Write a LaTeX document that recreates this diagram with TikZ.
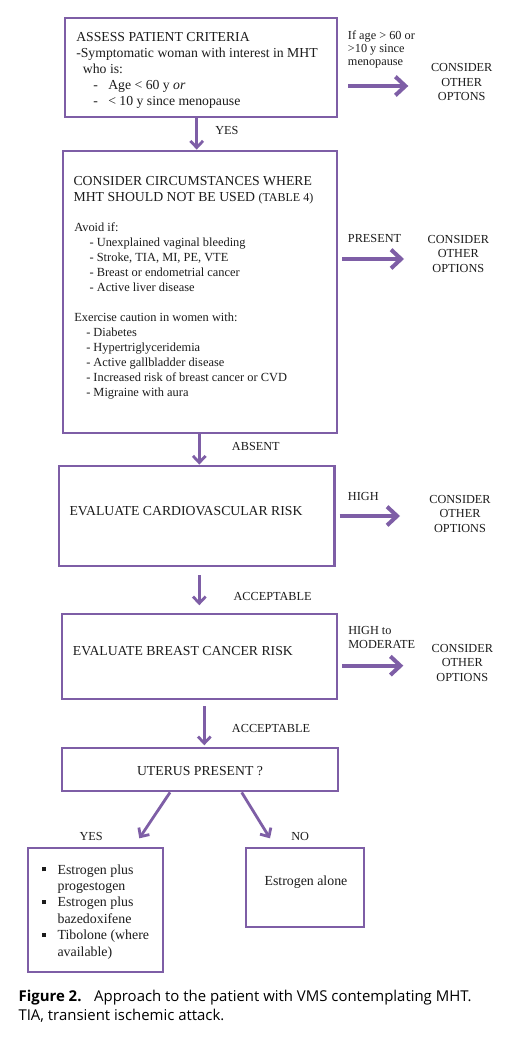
\documentclass[tikz,border=0pt]{standalone}
\usepackage{fontspec}
\setmainfont{Liberation Serif}
\newfontfamily\capfont{Open Sans}
\usetikzlibrary{arrows.meta}
\definecolor{mhtpurple}{RGB}{126,94,166}
\definecolor{txtcol}{RGB}{28,28,28}
\newcommand{\fA}{\fontsize{10.3}{12}\selectfont}
\newcommand{\fH}{\fontsize{10.3}{12.5}\selectfont}
\newcommand{\fL}{\fontsize{9.3}{11.25}\selectfont}
\newcommand{\fS}{\fontsize{9.2}{9.75}\selectfont}
\newcommand{\fO}{\fontsize{9.2}{11}\selectfont}
\newcommand{\fB}{\fontsize{10.4}{12.3}\selectfont}
\newcommand{\fC}{\fontsize{11.2}{14.25}\selectfont}
\newcommand{\bul}{\makebox[11.7pt][l]{\rule[2pt]{3pt}{3pt}}}
\begin{document}
\begin{tikzpicture}[x=0.75pt,y=-0.75pt,
  box/.style={draw=mhtpurple, line width=2.1pt, inner sep=0pt},
  txt/.style={inner sep=0pt, anchor=base west, text=txtcol, align=left},
  ctxt/.style={inner sep=0pt, anchor=base, text=txtcol, align=center},
  harr/.style={draw=mhtpurple, line width=3pt, -{Straight Barb[length=7.5pt,width=14pt]}},
  varr/.style={draw=mhtpurple, line width=2.1pt, -{Straight Barb[length=5pt,width=9.5pt]}}]
\useasboundingbox (0,0) rectangle (516,1052);
\fill[white] (0,0) rectangle (516,1052);

% boxes
\node[box, minimum width=204pt, minimum height=74.25pt] (b1) at (201,67.5) {};
\node[box, minimum width=205.5pt, minimum height=211.5pt] (b2) at (200,292) {};
\node[box, minimum width=206.6pt, minimum height=75pt] (b3) at (196.75,516) {};
\node[box, minimum width=206.25pt, minimum height=63.75pt] (b4) at (199.5,656.5) {};
\node[box, minimum width=207pt, minimum height=32.25pt] (b5) at (200,769.5) {};
\node[box, minimum width=101.25pt, minimum height=93pt] (b6) at (95.5,910) {};
\node[box, minimum width=88.5pt, minimum height=59.25pt] (b7) at (305,887.5) {};

% box texts (anchored at the baseline of the last line)
\node[txt, font=\fA] (t1) at (76,105.5) {ASSESS PATIENT CRITERIA\\-Symptomatic woman with interest in MHT\\\hspace*{5pt}who is:\\\hspace*{12.75pt}\makebox[11.25pt][l]{-}Age < 60 y \textit{or}\\\hspace*{12.75pt}\makebox[11.25pt][l]{-}< 10 y since menopause};
\node[txt, font=\fH] (t2) at (73.3,201.7) {CONSIDER CIRCUMSTANCES WHERE\\MHT SHOULD NOT BE USED {\fontsize{9}{9}\selectfont(TABLE 4)}};
\node[txt, font=\fL] (t2a) at (74,291.7) {Avoid if:\\\hspace*{11.5pt}- Unexplained vaginal bleeding\\\hspace*{11.5pt}- Stroke, TIA, MI, PE, VTE\\\hspace*{11.5pt}- Breast or endometrial cancer\\\hspace*{11.5pt}- Active liver disease};
\node[txt, font=\fL] (t2b) at (74,396.7) {Exercise caution in women with:\\\hspace*{9pt}- Diabetes\\\hspace*{9pt}- Hypertriglyceridemia\\\hspace*{9pt}- Active gallbladder disease\\\hspace*{9pt}- Increased risk of breast cancer or CVD\\\hspace*{9pt}- Migraine with aura};
\node[txt, font=\fA] (t3) at (69.3,515) {EVALUATE CARDIOVASCULAR RISK};
\node[txt, font=\fA] (t4) at (72.7,655) {EVALUATE BREAST CANCER RISK};
\node[ctxt, font=\fA] (t5) at (200,775) {UTERUS PRESENT ?};
\node[txt, font=\fB] (t6) at (41.7,956) {\bul Estrogen plus\\\hspace*{11.7pt}progestogen\\\bul Estrogen plus\\\hspace*{11.7pt}bazedoxifene\\\bul Tibolone (where\\\hspace*{11.7pt}available)};
\node[txt, font=\fB] (t7) at (264.3,885) {Estrogen alone};

% side labels and outcomes
\node[txt, font=\fS] (s1) at (347.7,66) {If age > 60 or\\>10 y since\\menopause};
\node[ctxt, font=\fO] (o1) at (461.7,101) {CONSIDER\\OTHER\\OPTONS};
\node[txt, font=\fO] (s2) at (347.7,242.7) {PRESENT};
\node[ctxt, font=\fO] (o2) at (458.3,272.6) {CONSIDER\\OTHER\\OPTIONS};
\node[txt, font=\fO] (s3) at (347.7,500) {HIGH};
\node[ctxt, font=\fO] (o3) at (460,532.6) {CONSIDER\\OTHER\\OPTIONS};
\node[txt, font=\fO] (s4) at (348,648.7) {HIGH to\\MODERATE};
\node[ctxt, font=\fO] (o4) at (462.3,681.6) {CONSIDER\\OTHER\\OPTIONS};

% flow labels
\node[txt, font=\fO] (l1) at (215,135) {YES};
\node[txt, font=\fO] (l2) at (231.7,450.7) {ABSENT};
\node[txt, font=\fO] (l3) at (233.3,600) {ACCEPTABLE};
\node[txt, font=\fO] (l4) at (231.7,732.3) {ACCEPTABLE};
\node[txt, font=\fO] (l5) at (79.3,840.7) {YES};
\node[txt, font=\fO] (l6) at (291,840.7) {NO};

% coordinates for connectors
\coordinate (x1) at (196.7,0);
\coordinate (x2) at (199.3,0);
\coordinate (x3) at (204.3,0);
\coordinate (h1) at (408.3,86);
\coordinate (h2) at (404,259);
\coordinate (h3) at (400,516);
\coordinate (h4) at (403.3,665.7);
\coordinate (dl) at (170,0);
\coordinate (dr) at (241.7,0);
\coordinate (el) at (139.3,838.3);
\coordinate (er) at (270,838.3);

% vertical connectors
\draw[varr] (b1.south -| x1) -- (b2.north -| x1);
\draw[varr] (b2.south -| x2) -- (b3.north -| x2);
\draw[varr, shorten <=6pt, shorten >=5.5pt] (b3.south -| x2) -- (b4.north -| x2);
\draw[varr, shorten <=4.5pt, shorten >=1pt] (b4.south -| x3) -- (b5.north -| x3);
\draw[varr] (b5.south -| dl) -- (el);
\draw[varr] (b5.south -| dr) -- (er);

% horizontal connectors
\draw[harr, shorten <=7.3pt] (b1.east |- h1) -- (h1);
\draw[harr, shorten <=2.8pt] (b2.east |- h2) -- (h2);
\draw[harr, shorten <=2.8pt] (b3.east |- h3) -- (h3);
\draw[harr, shorten <=3pt] (b4.east |- h4) -- (h4);

% caption
\node[txt, font=\capfont\fC, text=black] (cap) at (18.3,1020) {\textbf{Figure 2.}\hspace{0.5em} Approach to the patient with VMS contemplating MHT.\\TIA, transient ischemic attack.};
\end{tikzpicture}
\end{document}
